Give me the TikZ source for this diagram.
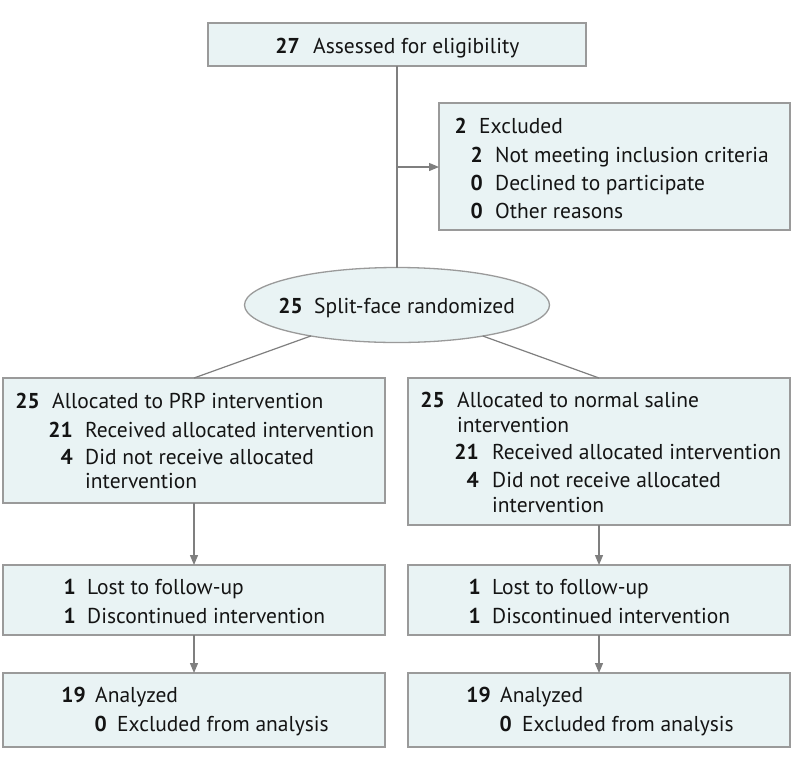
\documentclass[tikz,border=0pt]{standalone}
\usepackage{fontspec}
\setmainfont{PT Sans}
\usetikzlibrary{shapes.geometric,arrows.meta}
\definecolor{boxfill}{HTML}{E9F3F4}
\definecolor{boxline}{HTML}{9A9A9A}
\definecolor{conn}{HTML}{7F7F7F}
\definecolor{ink}{HTML}{141414}
\newcommand\crow[6]{%
  \node[numst] (#1n) at (#2,#4) {#5};
  \node[txtst] (#1t) at (#3,#4) {#6};}
\newcommand\trow[4]{%
  \node[txtst] (#1t) at (#2,#3) {#4};}
\begin{document}
\begin{tikzpicture}[x=1pt,y=-1pt,
  box/.style={draw=boxline,fill=boxfill,line width=1.3pt,rectangle,anchor=north west,inner sep=0pt,outer sep=0pt},
  oval/.style={draw=boxline,fill=boxfill,line width=1.3pt,ellipse,inner sep=0pt,outer sep=0pt,minimum width=305pt,minimum height=75pt},
  numst/.style={anchor=base east,inner sep=0pt,font=\fontsize{21.5}{25}\selectfont\bfseries,text=ink},
  txtst/.style={anchor=base west,inner sep=0pt,font=\fontsize{21.5}{25}\selectfont,text=ink},
  conline/.style={draw=conn,line width=1.2pt},
  arr/.style={conline,-{Triangle[length=10pt,width=8pt]}}]
\useasboundingbox[fill=white] (0,0) rectangle (794,766);
% boxes
\node[box,minimum width=378pt,minimum height=43pt] (top) at (208,23) {};
\node[box,minimum width=351pt,minimum height=127pt] (excl) at (439,103) {};
\node[oval] (rand) at (397,305) {};
\node[box,minimum width=382pt,minimum height=125pt] (a1) at (3,378) {};
\node[box,minimum width=382pt,minimum height=147pt] (a2) at (408,378) {};
\node[box,minimum width=382pt,minimum height=70pt] (f1) at (3,565) {};
\node[box,minimum width=382pt,minimum height=70pt] (f2) at (408,565) {};
\node[box,minimum width=382pt,minimum height=74pt] (n1) at (3,673) {};
\node[box,minimum width=382pt,minimum height=74pt] (n2) at (408,673) {};
% connectors
\draw[conline] (top.south) -- (rand.north);
\coordinate (j) at (397,167);
\draw[arr] (j) -- (excl.west |- j);
\draw[conline] (rand) -- (a1.north);
\draw[conline] (rand) -- (a2.north);
\draw[arr] (a1.south) -- (f1.north);
\draw[arr] (a2.south) -- (f2.north);
\draw[arr] (f1.south) -- (n1.north);
\draw[arr] (f2.south) -- (n2.north);
% texts
\crow{ta}{300}{313}{53}{27}{Assessed for eligibility}
\crow{ea}{467}{479}{133}{2}{Excluded}
\crow{eb}{483}{495}{162}{2}{Not meeting inclusion criteria}
\crow{ec}{483}{495}{190}{0}{Declined to participate}
\crow{ed}{483}{495}{218}{0}{Other reasons}
\crow{ra}{303}{314}{313}{25}{Split-face randomized}
\crow{la}{40}{52}{408}{25}{Allocated to PRP intervention}
\crow{lb}{73}{85}{437}{21}{Received allocated intervention}
\crow{lc}{73}{85}{464}{4}{Did not receive allocated}
\trow{ld}{85}{488}{intervention}
\crow{sa}{445}{457}{407}{25}{Allocated to normal saline}
\trow{sb}{457}{432}{intervention}
\crow{sc}{479}{492}{459}{21}{Received allocated intervention}
\crow{sd}{479}{492}{487}{4}{Did not receive allocated}
\trow{se}{492}{512}{intervention}
\crow{fa}{76}{87}{594}{1}{Lost to follow-up}
\crow{fb}{76}{87}{623}{1}{Discontinued intervention}
\crow{ga}{481}{492}{594}{1}{Lost to follow-up}
\crow{gb}{481}{492}{623}{1}{Discontinued intervention}
\crow{na}{86}{95}{702}{19}{Analyzed}
\crow{nb}{107}{117}{731}{0}{Excluded from analysis}
\crow{ma}{491}{500}{702}{19}{Analyzed}
\crow{mb}{512}{522}{731}{0}{Excluded from analysis}
\end{tikzpicture}
\end{document}
